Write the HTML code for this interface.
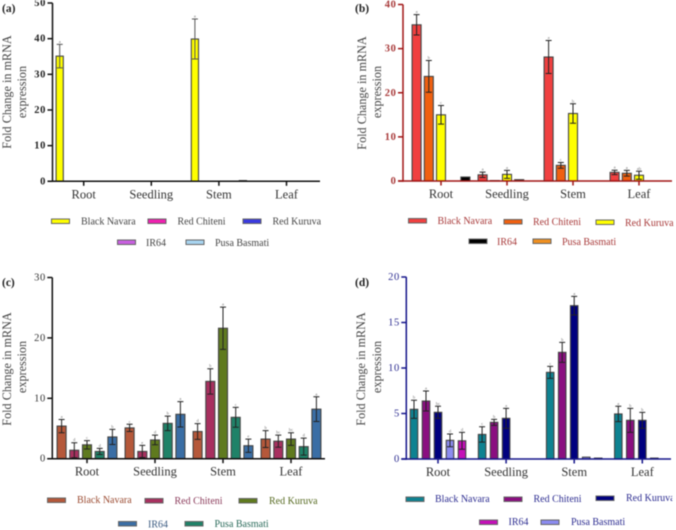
<!DOCTYPE html>
<html lang="en">
<head>
<meta charset="utf-8">
<title>Fold change in mRNA expression</title>
<style>
html,body{margin:0;padding:0;background:#fff;}
#figure{display:block;width:676px;height:530px;filter:blur(0.4px);font-family:"Liberation Serif",serif;}
.cat{font-size:12.5px;fill:#333;text-anchor:middle;}
.yt{font-size:12.2px;fill:#444;text-anchor:middle;}
.lg{font-size:10px;}
.pl{font-size:11.5px;font-weight:bold;fill:#222;}
.tick{font-size:10.5px;text-anchor:end;letter-spacing:.6px;}
.sig{font-size:4.5px;fill:#777;text-anchor:middle;}
</style>
</head>
<body>
<svg id="figure" xmlns="http://www.w3.org/2000/svg" width="676" height="530" viewBox="0 0 676 530">
<rect width="676" height="530" fill="#fff"/>

<g id="panel-a">
<text class="pl" x="2" y="12">(a)</text>
<text class="yt" transform="translate(11,92) rotate(-90)">Fold Change in mRNA</text>
<text class="yt" transform="translate(26,92) rotate(-90)">expression</text>
<g stroke="#666" stroke-width="1">
<rect x="51.5" y="219" width="18" height="4.5" fill="#ffff00"/>
<rect x="148" y="219" width="18" height="4.5" fill="#f020b0"/>
<rect x="243" y="219" width="18" height="4.5" fill="#3a3ae0"/>
<rect x="117.5" y="240" width="18" height="4.5" fill="#c860e0"/>
<rect x="186" y="240" width="18" height="4.5" fill="#a8d4f0"/>
</g>
<g fill="#444" class="lg">
<text x="81" y="224.5">Black Navara</text>
<text x="177.5" y="224.5">Red Chiteni</text>
<text x="272.5" y="224.5">Red Kuruva</text>
<text x="146" y="246">IR64</text>
<text x="215" y="246">Pusa Basmati</text>
</g>
</g>

<g id="panel-b">
<text class="pl" x="355" y="12">(b)</text>
<text class="yt" transform="translate(366,93) rotate(-90)">Fold Change in mRNA</text>
<text class="yt" transform="translate(381,92) rotate(-90)">expression</text>
<g stroke="#666" stroke-width="1">
<rect x="408.5" y="218.5" width="18" height="4.5" fill="#f04040"/>
<rect x="504" y="219.5" width="18" height="4.5" fill="#f06010"/>
<rect x="596" y="220" width="18" height="4.5" fill="#ffff00"/>
<rect x="469" y="239" width="18" height="4.5" fill="#000"/>
<rect x="533" y="239" width="18" height="4.5" fill="#f09020"/>
</g>
<g fill="#a83a3a" class="lg">
<text x="437.5" y="224">Black Navara</text>
<text x="533" y="225">Red Chiteni</text>
<text x="625" y="226">Red Kuruva</text>
<text x="497" y="245">IR64</text>
<text x="562" y="245">Pusa Basmati</text>
</g>
</g>

<g id="panel-c">
<text class="pl" x="2" y="286">(c)</text>
<text class="yt" transform="translate(11,369) rotate(-90)">Fold Change in mRNA</text>
<text class="yt" transform="translate(26,367) rotate(-90)">expression</text>
<g stroke="#666" stroke-width="1">
<rect x="47.5" y="498" width="18" height="4.5" fill="#b5583a"/>
<rect x="145" y="498.5" width="18" height="4.5" fill="#a8305f"/>
<rect x="239" y="498.5" width="18" height="4.5" fill="#5f7a1e"/>
<rect x="118.5" y="521.5" width="18" height="4.5" fill="#3a6ea5"/>
<rect x="185" y="521.5" width="18" height="4.5" fill="#1f8268"/>
</g>
<g class="lg">
<text x="77" y="503" fill="#9a4a30">Black Navara</text>
<text x="174.5" y="504" fill="#8a3a5a">Red Chiteni</text>
<text x="269" y="504" fill="#55691f">Red Kuruva</text>
<text x="148" y="527.5" fill="#3a5a80">IR64</text>
<text x="214.5" y="527" fill="#2a6a5a">Pusa Basmati</text>
</g>
</g>

<g id="panel-d">
<text class="pl" x="355" y="286">(d)</text>
<text class="yt" transform="translate(365,369) rotate(-90)">Fold Change in mRNA</text>
<text class="yt" transform="translate(381,367) rotate(-90)">expression</text>
<g stroke="#666" stroke-width="1">
<rect x="406" y="497" width="18" height="4.5" fill="#0e8291"/>
<rect x="504" y="497" width="18" height="4.5" fill="#8a0f80"/>
<rect x="596" y="496" width="18" height="4.5" fill="#00007f"/>
<rect x="479.5" y="520" width="18" height="4.5" fill="#c410b8"/>
<rect x="541" y="520" width="18" height="4.5" fill="#8c8cf0"/>
</g>
<g fill="#2c2c90" class="lg">
<text x="435" y="502">Black Navara</text>
<text x="533.5" y="502">Red Chiteni</text>
<text x="626" y="501">Red Kuruva</text>
<text x="508.5" y="525">IR64</text>
<text x="571" y="525">Pusa Basmati</text>
</g>
</g>

<rect x="672.5" y="490" width="4" height="20" fill="#fff"/>
</svg>

<script>
const categories = ["Root", "Seedling", "Stem", "Leaf"];
const seriesNames = ["Black Navara", "Red Chiteni", "Red Kuruva", "Pusa Basmati", "IR64"];

const aTicks = [0, 10, 20, 30, 40, 50];
const aBlackNavara = [35.1, 0, 39.9, 0];
const aRedChiteni = [0, 0, 0, 0];
const aRedKuruva = [0, 0, 0, 0];
const aPusaBasmati = [0, 0, 0, 0];
const aIR64 = [0, 0, 0.2, 0];
const aBlackNavaraErr = [3.3, 0, 5.6, 0];
const aRedChiteniErr = [0, 0, 0, 0];
const aRedKuruvaErr = [0, 0, 0, 0];
const aPusaBasmatiErr = [0, 0, 0, 0];
const aIR64Err = [0, 0, 0, 0];
const aBlackNavaraSig = ["a", "", "a", ""];
const aColors = ["#ffff00", "#f020b0", "#3a3ae0", "#a8d4f0", "#c860e0"];

const bTicks = [0, 10, 20, 30, 40];
const bBlackNavara = [35.4, 1.4, 28.1, 1.95];
const bRedChiteni = [23.7, 0.1, 3.55, 1.75];
const bRedKuruva = [15, 1.5, 15.3, 1.3];
const bPusaBasmati = [0, 0.3, 0, 0];
const bIR64 = [0.9, 0, 0, 0];
const bBlackNavaraErr = [2.3, 0.6, 3.75, 0.5];
const bRedChiteniErr = [3.6, 0, 0.65, 0.65];
const bRedKuruvaErr = [2.1, 0.9, 2.2, 0.9];
const bPusaBasmatiErr = [0, 0, 0, 0];
const bIR64Err = [0, 0, 0, 0];
const bBlackNavaraSig = ["a", "a", "a", "a"];
const bRedChiteniSig = ["b", "", "c", "a"];
const bRedKuruvaSig = ["c", "a", "b", "ab"];
const bColors = ["#f04040", "#f06010", "#ffff00", "#111111", "#000000"];

const cTicks = [0, 10, 20, 30];
const cBlackNavara = [5.4, 5.1, 4.5, 3.25];
const cRedChiteni = [1.4, 1.2, 12.8, 2.9];
const cRedKuruva = [2.3, 3.1, 21.6, 3.25];
const cPusaBasmati = [1.2, 5.85, 6.85, 2];
const cIR64 = [3.6, 7.35, 2.15, 8.2];
const cBlackNavaraErr = [1.1, 0.6, 1.3, 1.4];
const cRedChiteniErr = [1.25, 1, 2.1, 1];
const cRedKuruvaErr = [0.7, 0.8, 3.5, 1.05];
const cPusaBasmatiErr = [0.5, 1.2, 1.65, 1.4];
const cIR64Err = [1.25, 2.1, 1.1, 2.05];
const cBlackNavaraSig = ["a", "c", "d", "b"];
const cRedChiteniSig = ["d", "e", "b", "bc"];
const cRedKuruvaSig = ["c", "d", "a", "bc"];
const cPusaBasmatiSig = ["d", "b", "c", "d"];
const cIR64Sig = ["b", "a", "e", "a"];
const cColors = ["#b5583a", "#a8305f", "#5f7a1e", "#1f8268", "#3a6ea5"];

const dTicks = [0, 5, 10, 15, 20];
const dBlackNavara = [5.46, 2.7, 9.52, 4.95];
const dRedChiteni = [6.37, 4.03, 11.72, 4.25];
const dRedKuruva = [5.13, 4.47, 16.85, 4.25];
const dPusaBasmati = [2.05, 0, 0.2, 0.1];
const dIR64 = [2, 0, 0.1, 0];
const dBlackNavaraErr = [1, 0.85, 0.66, 0.84];
const dRedChiteniErr = [1.1, 0.33, 1.1, 1.32];
const dRedKuruvaErr = [0.66, 1.1, 1.02, 0.88];
const dPusaBasmatiErr = [0.7, 0, 0, 0];
const dIR64Err = [0.93, 0, 0, 0];
const dBlackNavaraSig = ["b", "c", "c", "a"];
const dRedChiteniSig = ["a", "b", "b", "b"];
const dRedKuruvaSig = ["bc", "a", "a", "b"];
const dPusaBasmatiSig = ["d", "", "", ""];
const dIR64Sig = ["d", "", "", ""];
const dColors = ["#0e8291", "#8a0f80", "#00007f", "#8c8cf0", "#c410b8"];

const SVG_NS = "http://www.w3.org/2000/svg";

function make(parent, tag, attrs, text) {
  const el = document.createElementNS(SVG_NS, tag);
  Object.keys(attrs).forEach(function (k) { el.setAttribute(k, attrs[k]); });
  if (text !== undefined) el.textContent = text;
  parent.appendChild(el);
  return el;
}

function slug(s) {
  return s.toLowerCase().replace(/\s+/g, "-");
}

function drawPanel(p) {
  const root = document.getElementById(p.id);
  const yMax = p.ticks[p.ticks.length - 1];
  const yScale = function (v) { return p.y0 - (v / yMax) * (p.y0 - p.yTop); };
  const groupX = function (i) { return p.tick0 + i * p.groupStep; };
  const barX = function (i, s) { return groupX(i) + (s - 2) * p.barStep; };

  const marks = make(root, "g", {});
  
  

  p.values.forEach(function (vals, s) {
    vals.forEach(function (v, i) {
      if (v <= 0) return;
      const cx = barX(i, s);
      const top = yScale(v);
      const bar = make(marks, "rect", {
        x: cx - p.barW / 2, y: top, width: p.barW, height: Math.max(p.y0 - top, 0.4),
        fill: p.colors[s], stroke: "#444", "stroke-width": 1.1
      });
      
      

      const e = p.errors[s][i];
      if (e > 0) {
        const hi = yScale(v + e);
        const lo = yScale(v - e);
        const err = make(marks, "path", {
          d: "M" + cx + " " + lo + "V" + hi + "M" + (cx - 3) + " " + hi + "H" + (cx + 3) +
             "M" + (cx - 3) + " " + lo + "H" + (cx + 3),
          fill: "none", stroke: p.errColor, "stroke-width": 1
        });
        
        

        const sigRow = p.sig[s];
        const label = sigRow ? sigRow[i] : "";
        if (label) {
          const sig = make(marks, "text", { class: "sig", x: cx, y: hi - 1.5 }, label);
          
          
        }
      }
    });
  });

  const axes = make(root, "g", { stroke: p.axisColor, "stroke-width": 1.5, fill: "none" });
  
  

  const yAxis = make(axes, "path", { d: "M" + p.x0 + " " + yScale(yMax) + "V" + (p.y0 + 0.7) });
  
  

  const xAxis = make(axes, "path", { d: "M" + (p.x0 - 5) + " " + p.y0 + "H" + p.xEnd });
  
  

  p.ticks.forEach(function (t) {
    const y = yScale(t);
    const mark = make(axes, "path", { d: "M" + (p.x0 - 5) + " " + y + "H" + p.x0 });
    
    
    const lbl = make(root, "text", { class: "tick", x: p.x0 - 6.5, y: y + 3, fill: p.tickColor, "font-weight": p.tickWeight }, String(t));
    
    
  });

  categories.forEach(function (c, i) {
    const x = groupX(i);
    const mark = make(axes, "path", { d: "M" + x + " " + p.y0 + "V" + (p.y0 + 4.5) });
    
    
    const lbl = make(root, "text", { class: "cat", x: x, y: p.y0 + 17 }, c);
    
    
  });
}

drawPanel({
  id: "panel-a", x0: 52.5, xEnd: 320, y0: 181.3, yTop: 3,
  tick0: 83.7, groupStep: 67.6, barStep: 12, barW: 7.2,
  ticks: aTicks, colors: aColors, errColor: "#555", axisColor: "#111", tickColor: "#222", tickWeight: "bold",
  values: [aBlackNavara, aRedChiteni, aRedKuruva, aPusaBasmati, aIR64],
  errors: [aBlackNavaraErr, aRedChiteniErr, aRedKuruvaErr, aPusaBasmatiErr, aIR64Err],
  sig: [aBlackNavaraSig]
});
drawPanel({
  id: "panel-b", x0: 403, xEnd: 672, y0: 181, yTop: 4.5,
  tick0: 441, groupStep: 66, barStep: 12.2, barW: 9,
  ticks: bTicks, colors: bColors, errColor: "#222", axisColor: "#a01515", tickColor: "#a83a3a", tickWeight: "bold",
  values: [bBlackNavara, bRedChiteni, bRedKuruva, bPusaBasmati, bIR64],
  errors: [bBlackNavaraErr, bRedChiteniErr, bRedKuruvaErr, bPusaBasmatiErr, bIR64Err],
  sig: [bBlackNavaraSig, bRedChiteniSig, bRedKuruvaSig]
});
drawPanel({
  id: "panel-c", x0: 52.3, xEnd: 325, y0: 458.7, yTop: 277.5,
  tick0: 87, groupStep: 68, barStep: 12.7, barW: 9,
  ticks: cTicks, colors: cColors, errColor: "#222", axisColor: "#111", tickColor: "#333", tickWeight: "normal",
  values: [cBlackNavara, cRedChiteni, cRedKuruva, cPusaBasmati, cIR64],
  errors: [cBlackNavaraErr, cRedChiteniErr, cRedKuruvaErr, cPusaBasmatiErr, cIR64Err],
  sig: [cBlackNavaraSig, cRedChiteniSig, cRedKuruvaSig, cPusaBasmatiSig, cIR64Sig]
});
drawPanel({
  id: "panel-d", x0: 406.3, xEnd: 671, y0: 459, yTop: 277,
  tick0: 438, groupStep: 68.1, barStep: 12, barW: 7.5,
  ticks: dTicks, colors: dColors, errColor: "#222", axisColor: "#15158a", tickColor: "#2c2c90", tickWeight: "normal",
  values: [dBlackNavara, dRedChiteni, dRedKuruva, dPusaBasmati, dIR64],
  errors: [dBlackNavaraErr, dRedChiteniErr, dRedKuruvaErr, dPusaBasmatiErr, dIR64Err],
  sig: [dBlackNavaraSig, dRedChiteniSig, dRedKuruvaSig, dPusaBasmatiSig, dIR64Sig]
});
</script>
</body>
</html>
